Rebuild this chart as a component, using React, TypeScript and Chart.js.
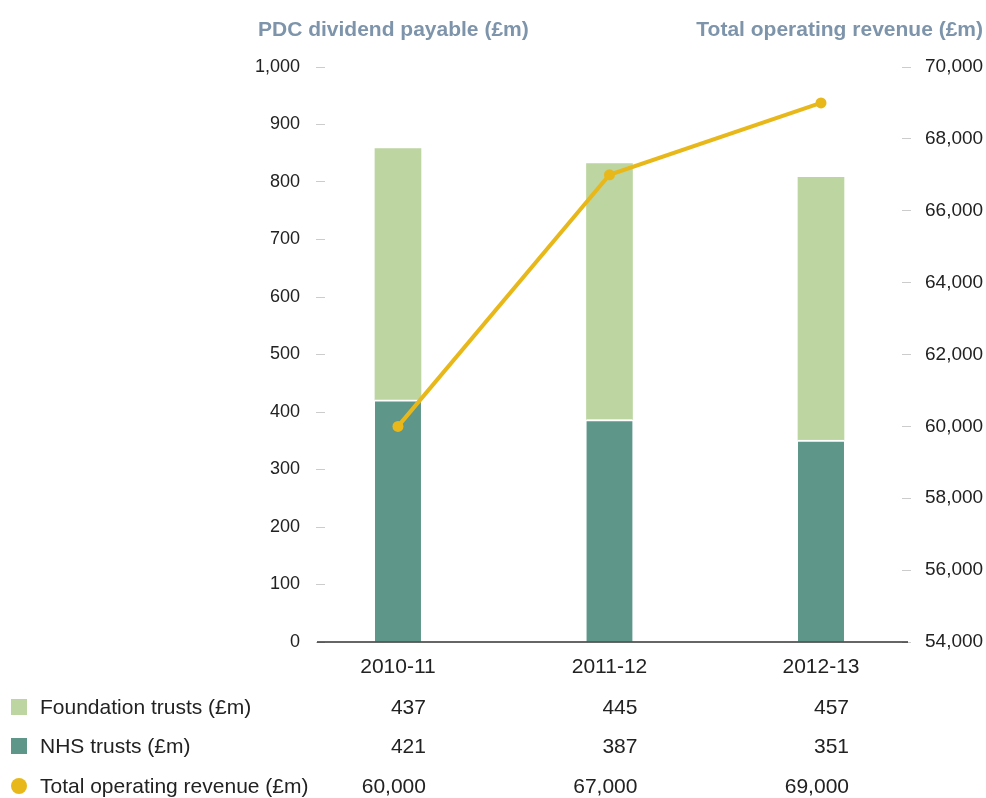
import React, { useEffect, useRef } from "react";
import { Chart, registerables } from "chart.js";

Chart.register(...registerables);

const categories = ["2010-11", "2011-12", "2012-13"];
const foundationTrusts = [437, 445, 457];
const nhsTrusts = [421, 387, 351];
const totalRevenue = [60000, 67000, 69000];

const leftTitle = "PDC dividend payable (£m)";
const rightTitle = "Total operating revenue (£m)";
const legendLabels = ["Foundation trusts (£m)", "NHS trusts (£m)", "Total operating revenue (£m)"];

const GREEN = "#bdd5a0";
const TEAL = "#5e968a";
const YELLOW = "#e8b81a";
const TITLE = "#7d94ab";
const TEXT = "#222222";
const FONT = "'Liberation Sans', Arial, Helvetica, sans-serif";

const fmt = (v: number) => v.toLocaleString("en-GB");

const decorPlugin = {
  id: "decor",
  afterDraw(chart: any) {
    const { ctx, chartArea, scales } = chart;
    const x = scales.x;
    const y = scales.y;
    ctx.save();
    // baseline
    const by = y.getPixelForValue(0);
    ctx.strokeStyle = "#333";
    ctx.lineWidth = 1.5;
    ctx.beginPath();
    ctx.moveTo(chartArea.left - 8, by);
    ctx.lineTo(chartArea.right + 6, by);
    ctx.stroke();

    // titles
    ctx.fillStyle = TITLE;
    ctx.font = `bold 21px ${FONT}`;
    ctx.textBaseline = "alphabetic";
    ctx.textAlign = "left";
    ctx.fillText(leftTitle, 258, 36);
    ctx.textAlign = "right";
    ctx.fillText(rightTitle, 983, 36);

    // legend table
    const rows = [
      { label: legendLabels[0], vals: foundationTrusts, color: GREEN, shape: "square" },
      { label: legendLabels[1], vals: nhsTrusts, color: TEAL, shape: "square" },
      { label: legendLabels[2], vals: totalRevenue, color: YELLOW, shape: "circle" },
    ];
    const rowY = [707, 746, 786];
    ctx.font = `21px ${FONT}`;
    ctx.textBaseline = "middle";
    rows.forEach((r, i) => {
      const cy = rowY[i];
      ctx.fillStyle = r.color;
      if (r.shape === "square") {
        ctx.fillRect(11, cy - 8, 16, 16);
      } else {
        ctx.beginPath();
        ctx.arc(19, cy, 8, 0, Math.PI * 2);
        ctx.fill();
      }
      ctx.fillStyle = TEXT;
      ctx.textAlign = "left";
      ctx.fillText(r.label, 40, cy + 1);
      ctx.textAlign = "right";
      r.vals.forEach((v, j) => {
        ctx.fillText(fmt(v), x.getPixelForValue(j) + 28, cy + 1);
      });
    });
    ctx.restore();
  },
};

export default function App() {
  const ref = useRef<HTMLCanvasElement>(null);
  useEffect(() => {
    document.body.style.margin = "0";
    const canvas = ref.current!;
    const chart = new Chart(canvas, {
      type: "bar",
      data: {
        datasets: [
          {
            type: "line",
            label: legendLabels[2],
            data: totalRevenue.map((v, i) => ({ x: i, y: v })),
            yAxisID: "y1",
            borderColor: YELLOW,
            backgroundColor: YELLOW,
            borderWidth: 4,
            pointRadius: 5.5,
            pointBackgroundColor: YELLOW,
            pointBorderWidth: 0,
            tension: 0,
            order: 0,
          } as any,
          {
            type: "bar",
            label: legendLabels[1],
            data: nhsTrusts.map((v, i) => ({ x: i, y: v })),
            yAxisID: "y",
            backgroundColor: TEAL,
            borderColor: "#ffffff",
            borderWidth: { top: 2, left: 0, right: 0, bottom: 0 },
            borderSkipped: false,
            barThickness: 46,
            order: 1,
          } as any,
          {
            type: "bar",
            label: legendLabels[0],
            data: foundationTrusts.map((v, i) => ({ x: i, y: v })),
            yAxisID: "y",
            backgroundColor: GREEN,
            borderWidth: 0,
            barThickness: 46,
            order: 2,
          } as any,
        ],
      },
      options: {
        animation: false,
        responsive: false,
        maintainAspectRatio: false,
        layout: { padding: { top: 67, left: 0, right: 0, bottom: 0 } },
        plugins: { legend: { display: false }, tooltip: { enabled: false } },
        scales: {
          x: {
            type: "linear",
            stacked: true,
            offset: false,
            min: -0.345,
            max: 2.383,
            grid: { display: false, drawTicks: false, offset: false },
            border: { display: false },
            afterBuildTicks: (s: any) => {
              s.ticks = categories.map((_, i) => ({ value: i }));
            },
            afterFit: (s: any) => {
              s.height = 156;
            },
            ticks: {
              autoSkip: false,
              padding: 13,
              color: TEXT,
              font: { family: FONT, size: 21 },
              callback: (v: any) => categories[v] ?? "",
            },
          },
          y: {
            position: "left",
            stacked: true,
            min: 0,
            max: 1000,
            grid: { drawOnChartArea: false, drawTicks: true, tickLength: 9, tickColor: "#cccccc", tickWidth: 1 },
            border: { display: false },
            afterFit: (s: any) => {
              s.width = 325;
            },
            ticks: {
              stepSize: 100,
              padding: 16,
              color: TEXT,
              font: { family: FONT, size: 18 },
              callback: (v: any) => fmt(Number(v)),
            },
          },
          y1: {
            position: "right",
            min: 54000,
            max: 70000,
            grid: { drawOnChartArea: false, drawTicks: true, tickLength: 9, tickColor: "#cccccc", tickWidth: 1 },
            border: { display: false },
            afterFit: (s: any) => {
              s.width = 84;
            },
            ticks: {
              stepSize: 2000,
              padding: 14,
              color: TEXT,
              font: { family: FONT, size: 19 },
              callback: (v: any) => fmt(Number(v)),
            },
          },
        },
      },
      plugins: [decorPlugin],
    });
    return () => chart.destroy();
  }, []);
  return (
    <div style={{ width: 986, height: 798 }}>
      <canvas ref={ref} width={986} height={798} style={{ display: "block" }} />
    </div>
  );
}
